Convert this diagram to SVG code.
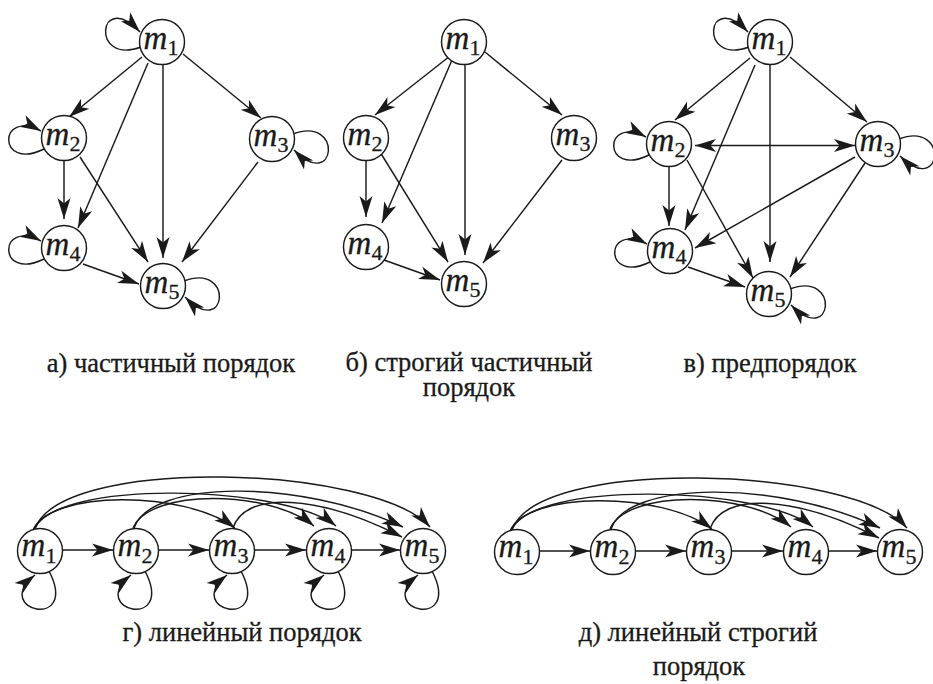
<svg xmlns="http://www.w3.org/2000/svg" width="933" height="684" viewBox="0 0 933 684">
  <defs>
    <marker id="arr" markerUnits="userSpaceOnUse" viewBox="-22 -8 23 16" markerWidth="23" markerHeight="16" refX="0" refY="0" orient="auto-start-reverse" overflow="visible">
      <path d="M0,0 L-21,-6.5 L-15.5,0 L-21,6.5 Z" fill="#1a1a1a"/>
    </marker>
    <style>
      .edge { fill: none; stroke: #1a1a1a; stroke-width: 1.45; marker-end: url(#arr); }
      .both { marker-start: url(#arr); }
      .node circle { fill: #fff; stroke: #1a1a1a; stroke-width: 1.45; }
      .lbl { font-size: 33px; font-style: italic; text-anchor: middle; fill: #1a1a1a; stroke: #1a1a1a; stroke-width: 0.3; }
      .sub { font-style: normal; font-size: 22px; }
      .cap { font-size: 26.5px; text-anchor: middle; fill: #1a1a1a; stroke: #1a1a1a; stroke-width: 0.3; }
    </style>
  </defs>
  <rect width="933" height="684" fill="#fff"/>

  <g font-family="Liberation Serif, DejaVu Serif, serif">
  <!-- а) partial order -->
  <g id="edges-a">
    <path class="edge" d="M142,57 L69,117"/>
    <path class="edge" d="M183,54 L261,118"/>
    <path class="edge" d="M148,63 L78,228"/>
    <path class="edge" d="M163,65 L163,258"/>
    <path class="edge" d="M64,161 L64,219"/>
    <path class="edge" d="M80,157 L148,262"/>
    <path class="edge" d="M258,162 L182,262"/>
    <path class="edge" d="M83,264 L139,284"/>
    <path class="edge" transform="translate(162,42)" d="M-21,5 C-72,24 -64,-54 -22,-10"/>
    <path class="edge" transform="translate(64,138)" d="M-20,11 C-67,34 -66,-30 -23,-7"/>
    <path class="edge" transform="translate(272,139)" d="M21,-5 C72,-24 64,54 22,11"/>
    <path class="edge" transform="translate(64,248)" d="M-20,11 C-67,34 -66,-30 -23,-7"/>
    <path class="edge" transform="translate(163,286)" d="M21,-5 C72,-24 64,54 22,11"/>
  </g>
  <g id="a-m1" class="node"><circle cx="162" cy="42" r="22.5"/><text class="lbl" x="161" y="49">m<tspan class="sub" dy="6">1</tspan></text></g>
  <g id="a-m2" class="node"><circle cx="64" cy="138" r="22.5"/><text class="lbl" x="63" y="145">m<tspan class="sub" dy="6">2</tspan></text></g>
  <g id="a-m3" class="node"><circle cx="272" cy="139" r="22.5"/><text class="lbl" x="271" y="146">m<tspan class="sub" dy="6">3</tspan></text></g>
  <g id="a-m4" class="node"><circle cx="64" cy="248" r="22.5"/><text class="lbl" x="63" y="255">m<tspan class="sub" dy="6">4</tspan></text></g>
  <g id="a-m5" class="node"><circle cx="163" cy="286" r="22.5"/><text class="lbl" x="162" y="293">m<tspan class="sub" dy="6">5</tspan></text></g>

  <!-- б) strict partial order -->
  <g id="edges-b">
    <path class="edge" d="M450,56 L375,115"/>
    <path class="edge" d="M485,52 L562,115"/>
    <path class="edge" d="M452,60 L382,223"/>
    <path class="edge" d="M465,64 L465,255"/>
    <path class="edge" d="M366,161 L366,217"/>
    <path class="edge" d="M380,152 L448,262"/>
    <path class="edge" d="M562,160 L483,263"/>
    <path class="edge" d="M384,260 L440,280"/>
  </g>
  <g id="b-m1" class="node"><circle cx="464" cy="42" r="22.5"/><text class="lbl" x="463" y="49">m<tspan class="sub" dy="6">1</tspan></text></g>
  <g id="b-m2" class="node"><circle cx="366" cy="138" r="22.5"/><text class="lbl" x="365" y="145">m<tspan class="sub" dy="6">2</tspan></text></g>
  <g id="b-m3" class="node"><circle cx="574" cy="138" r="22.5"/><text class="lbl" x="573" y="145">m<tspan class="sub" dy="6">3</tspan></text></g>
  <g id="b-m4" class="node"><circle cx="366" cy="247" r="22.5"/><text class="lbl" x="365" y="254">m<tspan class="sub" dy="6">4</tspan></text></g>
  <g id="b-m5" class="node"><circle cx="464" cy="284" r="22.5"/><text class="lbl" x="463" y="291">m<tspan class="sub" dy="6">5</tspan></text></g>

  <!-- в) preorder -->
  <g id="edges-c">
    <path class="edge" d="M750,58 L675,120"/>
    <path class="edge" d="M790,57 L867,122"/>
    <path class="edge" d="M755,65 L685,230"/>
    <path class="edge" d="M770,65 L770,262"/>
    <path class="edge both" d="M695,145.5 L855,145.5"/>
    <path class="edge" d="M669,167 L669,226"/>
    <path class="edge" d="M687,160 L753,278"/>
    <path class="edge" d="M855,157 L695,248"/>
    <path class="edge" d="M865,163 L790,277"/>
    <path class="edge" d="M688,267 L745,287"/>
    <path class="edge" transform="translate(770,42)" d="M-21,5 C-72,24 -64,-54 -22,-10"/>
    <path class="edge" transform="translate(669,144)" d="M-20,11 C-67,34 -66,-30 -23,-7"/>
    <path class="edge" transform="translate(878,144)" d="M21,-5 C72,-24 64,54 22,12"/>
    <path class="edge" transform="translate(670,251)" d="M-20,11 C-67,34 -66,-30 -23,-7"/>
    <path class="edge" transform="translate(769,294)" d="M21,-5 C72,-24 64,54 22,11"/>
  </g>
  <g id="c-m1" class="node"><circle cx="770" cy="42" r="22.5"/><text class="lbl" x="769" y="49">m<tspan class="sub" dy="6">1</tspan></text></g>
  <g id="c-m2" class="node"><circle cx="669" cy="144" r="22.5"/><text class="lbl" x="668" y="151">m<tspan class="sub" dy="6">2</tspan></text></g>
  <g id="c-m3" class="node"><circle cx="878" cy="144" r="22.5"/><text class="lbl" x="877" y="151">m<tspan class="sub" dy="6">3</tspan></text></g>
  <g id="c-m4" class="node"><circle cx="670" cy="251" r="22.5"/><text class="lbl" x="669" y="258">m<tspan class="sub" dy="6">4</tspan></text></g>
  <g id="c-m5" class="node"><circle cx="769" cy="294" r="22.5"/><text class="lbl" x="768" y="301">m<tspan class="sub" dy="6">5</tspan></text></g>

  <!-- г) linear order -->
  <g id="edges-d">
    <path class="edge" d="M63,550 L113,550"/>
    <path class="edge" d="M159,550 L209,550"/>
    <path class="edge" d="M255,550 L306,550"/>
    <path class="edge" d="M352,550 L400,550"/>
    <path class="edge" d="M33,530 C50,490 185,490 235,528"/>
    <path class="edge" d="M34,530 C55,478 285,485 336,526"/>
    <path class="edge" d="M35,529 C60,455 375,465 430,527"/>
    <path class="edge" d="M133,528 C150,488 270,490 314,526"/>
    <path class="edge" d="M134,528 C150,480 300,478 403,527"/>
    <path class="edge" d="M233,528 C245,490 320,495 402,537"/>
    <path class="edge" transform="translate(40,551)" d="M9,20 C40,80 -50,60 -5,24"/>
    <path class="edge" transform="translate(136,551)" d="M9,20 C40,80 -50,60 -5,24"/>
    <path class="edge" transform="translate(232,551)" d="M9,20 C40,80 -50,60 -5,24"/>
    <path class="edge" transform="translate(329,551)" d="M9,20 C40,80 -50,60 -5,24"/>
    <path class="edge" transform="translate(423,551)" d="M9,20 C40,80 -50,60 -5,24"/>
  </g>
  <g id="d-m1" class="node"><circle cx="40" cy="551" r="22.5"/><text class="lbl" x="39" y="556">m<tspan class="sub" dy="7">1</tspan></text></g>
  <g id="d-m2" class="node"><circle cx="136" cy="551" r="22.5"/><text class="lbl" x="135" y="556">m<tspan class="sub" dy="7">2</tspan></text></g>
  <g id="d-m3" class="node"><circle cx="232" cy="551" r="22.5"/><text class="lbl" x="231" y="556">m<tspan class="sub" dy="7">3</tspan></text></g>
  <g id="d-m4" class="node"><circle cx="329" cy="551" r="22.5"/><text class="lbl" x="328" y="556">m<tspan class="sub" dy="7">4</tspan></text></g>
  <g id="d-m5" class="node"><circle cx="423" cy="551" r="22.5"/><text class="lbl" x="422" y="556">m<tspan class="sub" dy="7">5</tspan></text></g>

  <!-- д) strict linear order -->
  <g transform="translate(477,1)">
    <g id="edges-e">
      <path class="edge" d="M63,550 L113,550"/>
      <path class="edge" d="M159,550 L209,550"/>
      <path class="edge" d="M255,550 L306,550"/>
      <path class="edge" d="M352,550 L400,550"/>
      <path class="edge" d="M33,530 C50,490 185,490 235,528"/>
      <path class="edge" d="M34,530 C55,478 285,485 336,526"/>
      <path class="edge" d="M35,529 C60,455 375,465 430,527"/>
      <path class="edge" d="M133,528 C150,488 270,490 314,526"/>
      <path class="edge" d="M134,528 C150,480 300,478 403,527"/>
      <path class="edge" d="M233,528 C245,490 320,495 402,537"/>
    </g>
    <g id="e-m1" class="node"><circle cx="40" cy="551" r="22.5"/><text class="lbl" x="39" y="556">m<tspan class="sub" dy="7">1</tspan></text></g>
    <g id="e-m2" class="node"><circle cx="136" cy="551" r="22.5"/><text class="lbl" x="135" y="556">m<tspan class="sub" dy="7">2</tspan></text></g>
    <g id="e-m3" class="node"><circle cx="232" cy="551" r="22.5"/><text class="lbl" x="231" y="556">m<tspan class="sub" dy="7">3</tspan></text></g>
    <g id="e-m4" class="node"><circle cx="329" cy="551" r="22.5"/><text class="lbl" x="328" y="556">m<tspan class="sub" dy="7">4</tspan></text></g>
    <g id="e-m5" class="node"><circle cx="423" cy="551" r="22.5"/><text class="lbl" x="422" y="556">m<tspan class="sub" dy="7">5</tspan></text></g>
  </g>

  <!-- captions -->
  <g id="captions">
    <text class="cap" x="171" y="372">а) частичный порядок</text>
    <text class="cap" x="469" y="371">б) строгий частичный</text>
    <text class="cap" x="469" y="396">порядок</text>
    <text class="cap" x="770" y="372">в) предпорядок</text>
    <text class="cap" x="242" y="641">г) линейный порядок</text>
    <text class="cap" x="698" y="641">д) линейный строгий</text>
    <text class="cap" x="699" y="675">порядок</text>
  </g>
  </g>
</svg>
